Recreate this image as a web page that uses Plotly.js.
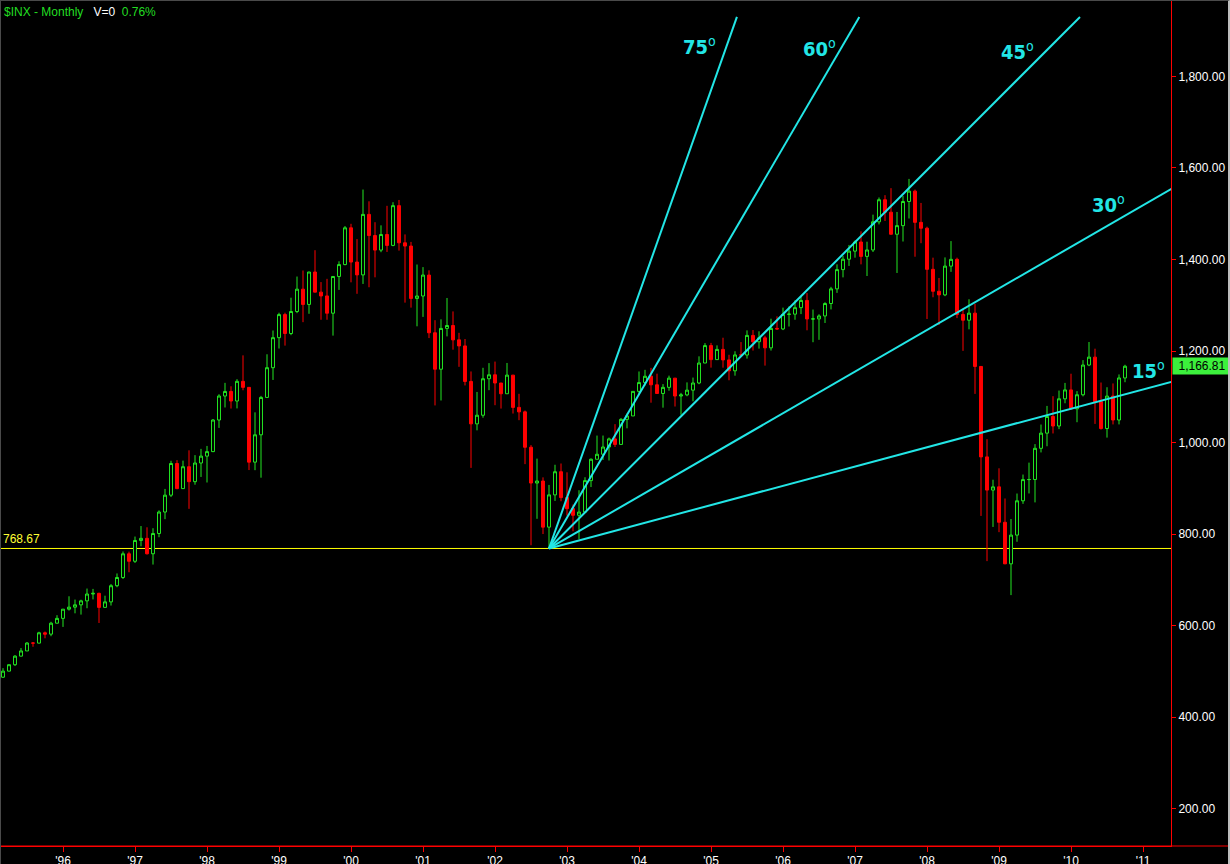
<!DOCTYPE html>
<html>
<head>
<meta charset="utf-8">
<script src="https://cdn.plot.ly/plotly-3.0.1.min.js"></script>
<style>
  html, body { margin: 0; padding: 0; background: #000; overflow: hidden; }
  #chart { width: 1230px; height: 864px; }
  #frame { position: absolute; left: 0; top: 0; width: 1230px; height: 864px; box-sizing: border-box;
           border-left: 1px solid #4a4a4a; border-top: 1px solid #4a4a4a; border-right: 2px solid #bdbdbd;
           pointer-events: none; }
</style>
</head>
<body>
<div id="chart"></div>
<div id="frame"></div>
<script>
// ---- Monthly S&P 500 ($INX) candles, March 1995 .. October 2010 ----
const firstYear = 1995;
const firstMonth = 3; // March

const opens = [
  487.39, 500.71, 514.71, 533.40, 544.75, 562.06, 561.88, 584.41, 581.50, 605.37,
  615.93, 636.02, 640.43, 645.50, 654.17, 669.12, 670.63, 639.95, 651.99, 687.31, 705.27, 757.02,
  740.74, 786.16, 790.82, 757.12, 801.34, 848.28, 885.14, 954.29, 899.47, 947.28, 914.62, 955.40,
  970.43, 980.28, 1049.34, 1101.75, 1111.75, 1090.82, 1133.84, 1120.67, 957.28, 1017.01, 1098.67, 1163.63,
  1229.23, 1279.64, 1238.33, 1286.37, 1335.18, 1301.84, 1372.71, 1328.72, 1320.41, 1282.71, 1362.93, 1388.91,
  1469.25, 1394.46, 1366.42, 1498.58, 1452.43, 1420.60, 1454.60, 1430.83, 1517.68, 1436.51, 1429.40, 1314.95,
  1320.28, 1366.01, 1239.94, 1160.33, 1249.46, 1255.82, 1224.42, 1211.23, 1133.58, 1040.94, 1059.78, 1139.45,
  1148.08, 1130.20, 1106.73, 1147.39, 1076.92, 1067.14, 989.82, 911.62, 916.07, 815.28, 885.76, 936.31,
  879.82, 855.70, 841.15, 848.18, 916.92, 963.59, 974.50, 990.31, 1008.01, 995.97, 1050.71, 1058.20,
  1111.92, 1131.13, 1144.94, 1126.21, 1107.30, 1120.68, 1140.84, 1101.72, 1104.24, 1114.58, 1130.20, 1173.82,
  1211.92, 1181.27, 1203.60, 1180.59, 1156.85, 1191.50, 1191.33, 1234.18, 1220.33, 1228.81, 1207.01, 1249.48,
  1248.29, 1280.08, 1280.66, 1294.83, 1310.61, 1270.09, 1270.20, 1276.66, 1303.82, 1335.85, 1377.94, 1400.63,
  1418.30, 1438.24, 1406.82, 1420.86, 1482.37, 1530.62, 1503.35, 1455.27, 1473.99, 1526.75, 1549.38, 1481.14,
  1468.36, 1378.55, 1330.63, 1322.70, 1385.59, 1400.38, 1280.00, 1267.38, 1282.83, 1166.36, 968.75, 896.24,
  903.25, 825.88, 735.09, 797.87, 872.81, 919.14, 919.32, 987.48, 1020.62, 1057.08, 1036.19, 1095.63,
  1115.10, 1073.87, 1104.49, 1169.43, 1186.69, 1089.41, 1030.71, 1101.60, 1049.33, 1141.20
];
const highs = [
  507.19, 515.23, 535.52, 551.07, 564.00, 564.16, 586.71, 587.20, 608.45, 622.88,
  636.18, 664.23, 656.97, 656.66, 681.10, 680.32, 672.00, 665.49, 690.88, 714.10, 762.12, 761.75,
  794.67, 817.68, 814.90, 812.93, 851.87, 898.70, 960.32, 961.63, 960.59, 983.12, 972.56, 986.25,
  992.65, 1051.47, 1105.65, 1130.52, 1123.02, 1138.49, 1190.58, 1121.40, 1066.11, 1102.00, 1192.97, 1244.93,
  1283.75, 1283.75, 1316.55, 1362.80, 1375.98, 1372.93, 1420.33, 1350.66, 1357.74, 1362.93, 1396.12, 1473.10,
  1478.00, 1444.55, 1552.87, 1527.19, 1481.51, 1474.63, 1517.32, 1525.21, 1530.09, 1454.82, 1438.46, 1389.06,
  1383.37, 1376.38, 1267.42, 1269.30, 1315.93, 1286.62, 1239.78, 1226.27, 1155.40, 1110.61, 1163.38, 1173.62,
  1176.97, 1130.20, 1173.94, 1147.84, 1106.59, 1070.00, 994.46, 965.00, 924.02, 907.44, 951.57, 954.28,
  935.05, 864.64, 895.90, 924.24, 965.38, 1015.33, 1015.41, 1011.01, 1040.29, 1053.79, 1063.65, 1112.56,
  1155.38, 1158.98, 1163.23, 1150.57, 1127.74, 1146.34, 1140.84, 1108.60, 1131.54, 1142.05, 1188.46, 1217.33,
  1217.80, 1212.44, 1229.11, 1191.88, 1199.56, 1219.59, 1245.15, 1245.86, 1243.13, 1233.34, 1270.64, 1275.80,
  1294.90, 1297.57, 1310.88, 1318.16, 1326.70, 1290.68, 1280.42, 1306.74, 1340.28, 1389.45, 1407.89, 1431.81,
  1441.61, 1461.57, 1438.89, 1498.02, 1535.56, 1540.56, 1555.90, 1503.89, 1538.74, 1576.09, 1552.76, 1523.57,
  1471.77, 1404.05, 1359.68, 1404.57, 1440.24, 1404.05, 1292.17, 1313.15, 1303.04, 1167.03, 1007.51, 918.85,
  943.85, 877.86, 832.98, 888.70, 930.17, 956.23, 996.68, 1039.47, 1080.15, 1101.36, 1113.69, 1130.38,
  1150.45, 1112.42, 1180.16, 1219.80, 1205.13, 1131.23, 1120.95, 1129.24, 1148.90, 1170.00
];
const lows = [
  485.74, 500.20, 511.90, 533.00, 544.75, 553.93, 561.15, 572.37, 576.96, 605.05,
  597.29, 632.98, 626.98, 624.19, 638.08, 657.36, 605.88, 639.95, 643.97, 684.00, 702.00, 716.69,
  737.01, 773.43, 755.42, 733.54, 793.21, 832.65, 881.00, 898.07, 899.47, 855.27, 907.95, 924.92,
  912.83, 979.17, 1032.06, 1076.70, 1074.39, 1074.67, 1114.30, 939.98, 939.71, 923.32, 1098.67, 1136.89,
  1205.46, 1211.89, 1234.67, 1282.80, 1263.11, 1281.41, 1328.49, 1268.37, 1268.37, 1233.70, 1333.61, 1387.38,
  1350.14, 1325.07, 1346.62, 1339.40, 1361.09, 1415.98, 1416.54, 1429.00, 1419.44, 1305.79, 1294.90, 1254.07,
  1274.62, 1228.33, 1081.19, 1091.99, 1232.00, 1203.03, 1165.54, 1124.87, 944.75, 1026.76, 1054.31, 1114.51,
  1081.66, 1074.36, 1106.73, 1063.46, 1048.96, 952.92, 775.68, 833.44, 800.20, 768.67, 872.57, 871.84,
  840.34, 806.29, 788.90, 847.85, 902.83, 963.59, 962.10, 960.84, 990.36, 995.97, 1031.20, 1058.20,
  1105.08, 1124.44, 1087.16, 1107.23, 1076.32, 1113.32, 1078.78, 1060.72, 1101.29, 1090.19, 1127.60, 1173.76,
  1163.75, 1180.95, 1163.69, 1136.15, 1146.18, 1188.30, 1183.55, 1201.07, 1205.35, 1168.20, 1201.07, 1246.59,
  1245.74, 1253.61, 1268.42, 1280.74, 1245.34, 1219.29, 1224.54, 1261.30, 1290.93, 1327.10, 1360.98, 1385.93,
  1403.97, 1389.42, 1363.98, 1416.37, 1476.70, 1484.18, 1454.25, 1370.60, 1439.29, 1489.56, 1406.10, 1435.65,
  1270.05, 1317.52, 1256.98, 1320.00, 1373.07, 1272.00, 1200.44, 1247.45, 1106.42, 839.80, 741.02, 815.69,
  804.30, 734.52, 666.79, 783.32, 866.10, 888.86, 869.32, 978.51, 991.97, 1019.95, 1029.38, 1085.89,
  1071.59, 1044.50, 1101.01, 1167.00, 1040.78, 1028.33, 1010.91, 1039.70, 1039.70, 1131.87
];
const closes = [
  500.71, 514.71, 533.40, 544.75, 562.06, 561.88, 584.41, 581.50, 605.37, 615.93,
  636.02, 640.43, 645.50, 654.17, 669.12, 670.63, 639.95, 651.99, 687.31, 705.27, 757.02, 740.74,
  786.16, 790.82, 757.12, 801.34, 848.28, 885.14, 954.29, 899.47, 947.28, 914.62, 955.40, 970.43,
  980.28, 1049.34, 1101.75, 1111.75, 1090.82, 1133.84, 1120.67, 957.28, 1017.01, 1098.67, 1163.63, 1229.23,
  1279.64, 1238.33, 1286.37, 1335.18, 1301.84, 1372.71, 1328.72, 1320.41, 1282.71, 1362.93, 1388.91, 1469.25,
  1394.46, 1366.42, 1498.58, 1452.43, 1420.60, 1454.60, 1430.83, 1517.68, 1436.51, 1429.40, 1314.95, 1320.28,
  1366.01, 1239.94, 1160.33, 1249.46, 1255.82, 1224.42, 1211.23, 1133.58, 1040.94, 1059.78, 1139.45, 1148.08,
  1130.20, 1106.73, 1147.39, 1076.92, 1067.14, 989.82, 911.62, 916.07, 815.28, 885.76, 936.31, 879.82,
  855.70, 841.15, 848.18, 916.92, 963.59, 974.50, 990.31, 1008.01, 995.97, 1050.71, 1058.20, 1111.92,
  1131.13, 1144.94, 1126.21, 1107.30, 1120.68, 1140.84, 1101.72, 1104.24, 1114.58, 1130.20, 1173.82, 1211.92,
  1181.27, 1203.60, 1180.59, 1156.85, 1191.50, 1191.33, 1234.18, 1220.33, 1228.81, 1207.01, 1249.48, 1248.29,
  1280.08, 1280.66, 1294.83, 1310.61, 1270.09, 1270.20, 1276.66, 1303.82, 1335.85, 1377.94, 1400.63, 1418.30,
  1438.24, 1406.82, 1420.86, 1482.37, 1530.62, 1503.35, 1455.27, 1473.99, 1526.75, 1549.38, 1481.14, 1468.36,
  1378.55, 1330.63, 1322.70, 1385.59, 1400.38, 1280.00, 1267.38, 1282.83, 1166.36, 968.75, 896.24, 903.25,
  825.88, 735.09, 797.87, 872.81, 919.14, 919.32, 987.48, 1020.62, 1057.08, 1036.19, 1095.63, 1115.10,
  1073.87, 1104.49, 1169.43, 1186.69, 1089.41, 1030.71, 1101.60, 1049.33, 1141.20, 1166.81
];

// x axis ticks (start of each year)
const yearTicks = [1996, 1997, 1998, 1999, 2000, 2001, 2002, 2003, 2004, 2005, 2006, 2007, 2008, 2009, 2010, 2011];
const yearLabels = ["'96", "'97", "'98", "'99", "'00", "'01", "'02", "'03", "'04", "'05", "'06", "'07", "'08", "'09", "'10", "'11"];
const priceTicks = [200, 400, 600, 800, 1000, 1200, 1400, 1600, 1800];

// Support level (October 2002 low) and fan lines drawn from it
const supportLevel = 768.67;
const fanOriginX = 2002.75;        // October 2002
const fanAngles = ['75', '60', '45', '30', '15'];
const fanEndX = [2005.36, 2007.06, 2010.125, 2011.40, 2011.40];
const fanEndY = [1930, 1930, 1930, 1555, 1133];
const lastPrice = 1166.81;

// ---- build ----
const xs = opens.map((_, i) => firstYear + (firstMonth - 1 + i) / 12);

const GREEN = '#22e622';
const RED = '#ff0000';
const CYAN = '#22e6e6';
const AXISRED = '#ff0000';

const traces = [];
traces.push({
  type: 'candlestick',
  x: xs, open: opens, high: highs, low: lows, close: closes,
  increasing: { line: { color: GREEN, width: 1 }, fillcolor: '#000000' },
  decreasing: { line: { color: RED, width: 1 }, fillcolor: RED },
  whiskerwidth: 0,
  hoverinfo: 'skip',
  showlegend: false
});
fanAngles.forEach((a, i) => {
  traces.push({
    type: 'scatter', mode: 'lines',
    x: [fanOriginX, fanEndX[i]], y: [supportLevel, fanEndY[i]],
    line: { color: CYAN, width: 2 },
    hoverinfo: 'skip', showlegend: false
  });
});

// label positions for fan angles (layout, not data)
const fanLabelPos = [
  [2004.84, 1866], [2006.507, 1862], [2009.25, 1855], [2010.514, 1521], [2011.083, 1158]
];
const labelFont = { family: 'DejaVu Sans Condensed, Liberation Sans Narrow, Arial Narrow, sans-serif', size: 20, color: CYAN };

const annotations = fanAngles.map((a, i) => ({
  xref: 'x', yref: 'y', x: fanLabelPos[i][0], y: fanLabelPos[i][1],
  text: '<b>' + a + '</b><sup>o</sup>', showarrow: false,
  xanchor: 'center', yanchor: 'middle', font: labelFont
}));

const NB = '\u00a0';
annotations.push({
  xref: 'paper', yref: 'paper', x: 0, y: 1, xanchor: 'left', yanchor: 'top',
  xshift: 2, yshift: -3, showarrow: false, align: 'left',
  font: { family: 'Liberation Sans, Arial, sans-serif', size: 12, color: '#22dd22' },
  text: '$INX - Monthly' + NB + NB + NB + '<span style="color:#ffffff">V=0</span>' + NB + NB + '0.76%'
});
annotations.push({
  xref: 'paper', yref: 'y', x: 0, y: supportLevel, xanchor: 'left', yanchor: 'bottom',
  xshift: 1, showarrow: false,
  font: { family: 'Liberation Sans, Arial, sans-serif', size: 12, color: '#ffff33' },
  text: supportLevel.toFixed(2)
});
annotations.push({
  xref: 'paper', yref: 'y', x: 1, y: lastPrice, xanchor: 'left', yanchor: 'middle',
  xshift: 1, showarrow: false, bgcolor: '#3cf03c', borderpad: 0, width: 58, height: 16,
  font: { family: 'Liberation Sans, Arial, sans-serif', size: 12, color: '#000000' },
  text: lastPrice.toLocaleString('en-US', { minimumFractionDigits: 2, maximumFractionDigits: 2 })
});

const plotW = 1171;
const layout = {
  width: 1230, height: 864,
  margin: { l: 0, r: 59, t: 0, b: 18, pad: 0 },
  paper_bgcolor: '#000000', plot_bgcolor: '#000000',
  showlegend: false,
  boxgap: 0.3,
  font: { family: 'Liberation Sans, Arial, sans-serif', size: 12, color: '#ffffff' },
  xaxis: {
    type: 'linear',
    range: [1995.125, 1995.125 + plotW / 72],
    tickvals: yearTicks, ticktext: yearLabels,
    ticks: 'outside', ticklen: 5, tickcolor: AXISRED, tickwidth: 1,
    ticklabelstandoff: -1,
    showgrid: false, zeroline: false,
    showline: true, linecolor: AXISRED, linewidth: 1,
    tickfont: { family: 'Liberation Sans, Arial, sans-serif', size: 12, color: '#ffffff' },
    rangeslider: { visible: false },
    fixedrange: true
  },
  yaxis: {
    side: 'right',
    range: [118.6, 1967.0],
    tickvals: priceTicks,
    tickformat: ',.2f',
    ticks: 'outside', ticklen: 4, tickcolor: AXISRED, tickwidth: 1,
    showgrid: false, zeroline: false,
    showline: true, linecolor: AXISRED, linewidth: 1,
    tickfont: { family: 'Liberation Sans, Arial, sans-serif', size: 12, color: '#ffffff' },
    fixedrange: true
  },
  shapes: [
    { type: 'line', xref: 'paper', yref: 'y', x0: 0, x1: 1, y0: supportLevel, y1: supportLevel,
      line: { color: '#ffff00', width: 1 }, layer: 'below' },
    { type: 'line', xref: 'paper', yref: 'paper', x0: 0, x1: 1230 / plotW, y0: 0, y1: 0,
      line: { color: AXISRED, width: 1 } }
  ],
  annotations: annotations,
  hovermode: false
};

Plotly.newPlot('chart', traces, layout, { staticPlot: true, displayModeBar: false });
</script>
</body>
</html>
